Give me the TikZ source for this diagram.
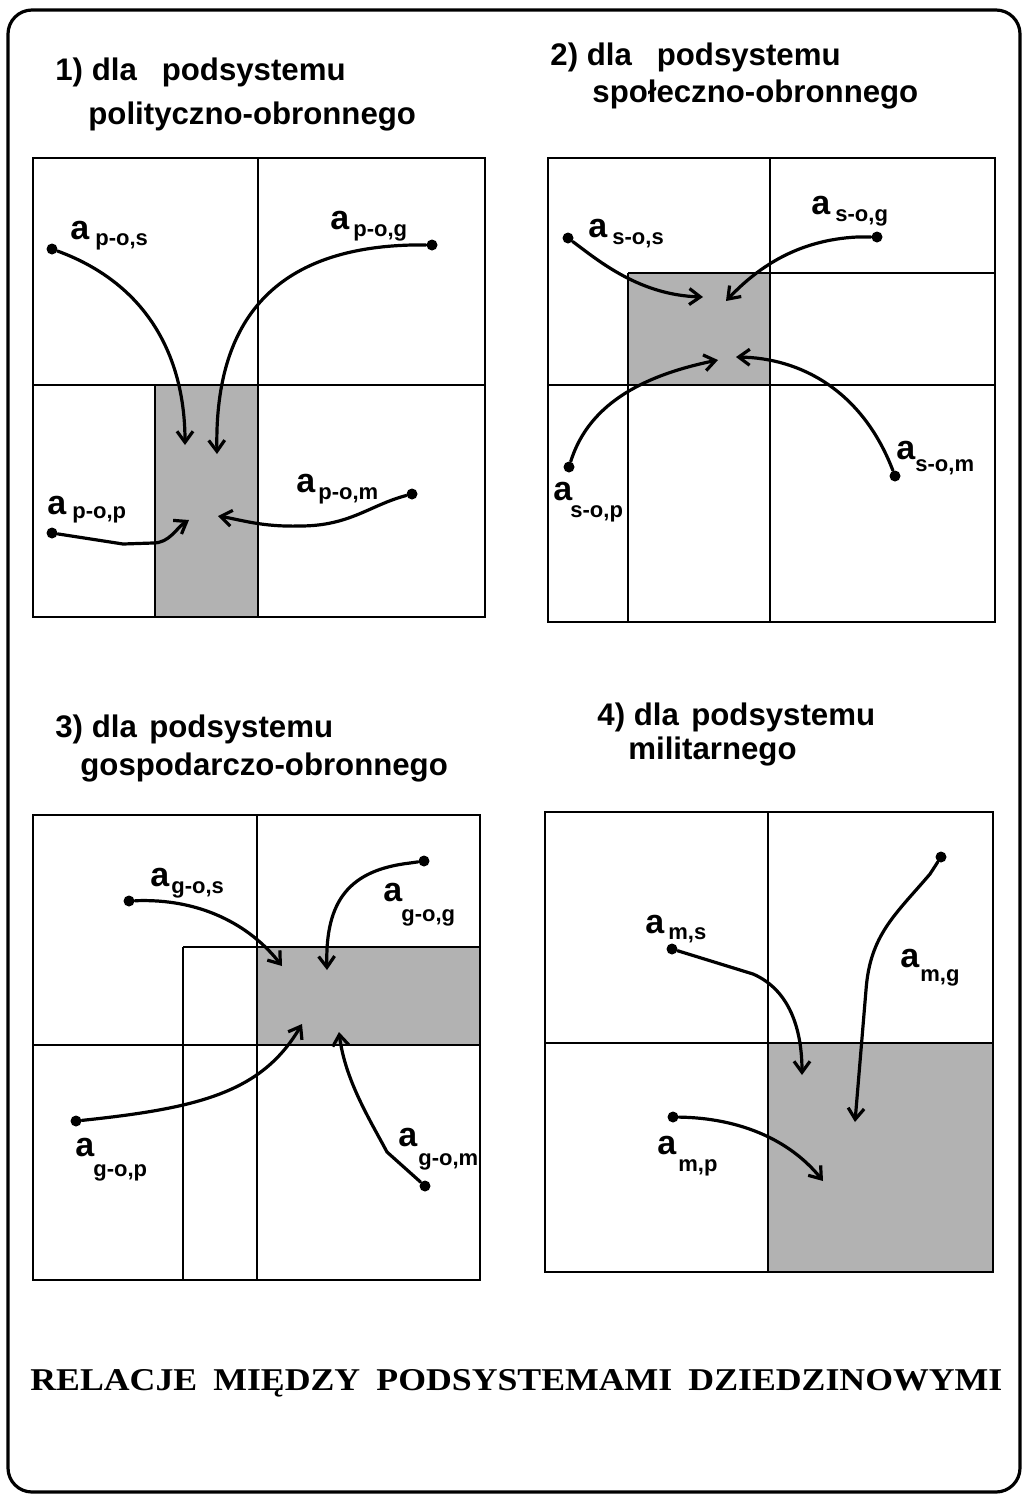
\documentclass[tikz,border=0pt]{standalone}
\usepackage{fontspec}
\setmainfont{Liberation Serif}
\newfontfamily\arialf{Liberation Sans}
\usetikzlibrary{arrows.meta}
\begin{document}
\begin{tikzpicture}[x=0.5pt,y=-0.5pt,
  gridl/.style={line width=0.9pt},
  shadebox/.style={fill=black!30},
  arr/.style={line width=1.6pt,line cap=round,-{Straight Barb[length=5.5pt,width=8pt]}},
  dotn/.style={circle,fill=black,inner sep=0pt,minimum size=5.5pt},
  ttl/.style={anchor=base west,inner sep=0pt,font=\arialf\bfseries\fontsize{15.6}{18}\selectfont},
  la/.style={anchor=base west,inner sep=0pt,font=\arialf\bfseries\fontsize{17}{18}\selectfont},
  ls/.style={anchor=base west,inner sep=0pt,font=\arialf\bfseries\fontsize{11}{13}\selectfont}]
\useasboundingbox (0,0) rectangle (1024,1500);
\fill[white] (0,0) rectangle (1024,1500);
% outer frame
\draw[line width=1.6pt,rounded corners=12pt] (8,10) rectangle (1020,1492);

% ---------- panel 1 ----------
\fill[shadebox] (155,385) rectangle (258,617);
\draw[gridl] (33,158) rectangle (485,617);
\draw[gridl] (258,158) -- (258,617);
\draw[gridl] (33,385) -- (485,385);
\draw[gridl] (155,385) -- (155,617);
\node[ttl] (t1a) at (55,80) {1) dla\hspace{0.8em}podsystemu};
\node[ttl] (t1b) at (88,124) {polityczno-obronnego};

\node[dotn] (d1s) at (52,249) {};
\node[dotn] (d1g) at (432,245) {};
\node[dotn] (d1p) at (52,533) {};
\node[dotn] (d1m) at (412,494) {};
\coordinate (e1s) at (185,445);
\coordinate (e1g) at (217,454);
\coordinate (e1p) at (189,520);
\coordinate (e1m) at (218,516);
\draw[arr] (d1s) .. controls (150,285) and (185,360) .. (e1s);
\draw[arr] (d1g) -- (412,245) .. controls (285,248) and (214,310) .. (e1g);
\draw[arr] (d1p) -- (123,544) -- (153,543) .. controls (170,543) and (176,528) .. (e1p);
\draw[arr] (d1m) .. controls (370,505) and (350,526) .. (300,526) .. controls (262,527) and (242,520) .. (e1m);
\node[la] (l1s) at (70,239) {a};   \node[ls] (s1s) at (95,245) {p-o,s};
\node[la] (l1g) at (330,229) {a};  \node[ls] (s1g) at (353,236) {p-o,g};
\node[la] (l1p) at (47,514) {a};   \node[ls] (s1p) at (72,518) {p-o,p};
\node[la] (l1m) at (296,492) {a};  \node[ls] (s1m) at (318,499) {p-o,m};

% ---------- panel 2 ----------
\fill[shadebox] (628,273) rectangle (770,385);
\draw[gridl] (548,158) rectangle (995,622);
\draw[gridl] (770,158) -- (770,622);
\draw[gridl] (548,385) -- (995,385);
\draw[gridl] (628,273) -- (995,273);
\draw[gridl] (628,273) -- (628,622);
\node[ttl] (t2a) at (550,65) {2) dla\hspace{0.8em}podsystemu};
\node[ttl] (t2b) at (592,102) {społeczno-obronnego};

\node[dotn] (d2s) at (568,238) {};
\node[dotn] (d2g) at (877,237) {};
\node[dotn] (d2p) at (569,467) {};
\node[dotn] (d2m) at (895,476) {};
\coordinate (e2s) at (703,297);
\coordinate (e2g) at (726,301);
\coordinate (e2p) at (718,360);
\coordinate (e2m) at (736,357);
\draw[arr] (d2s) .. controls (600,262) and (640,295) .. (e2s);
\draw[arr] (d2g) -- (857,237) .. controls (800,240) and (760,265) .. (e2g);
\draw[arr] (d2p) .. controls (590,400) and (650,374) .. (e2p);
\draw[arr] (d2m) .. controls (862,390) and (800,358) .. (e2m);
\node[la] (l2s) at (588,237) {a};  \node[ls] (s2s) at (612,244) {s-o,s};
\node[la] (l2g) at (811,214) {a};  \node[ls] (s2g) at (835,221) {s-o,g};
\node[la] (l2p) at (553,500) {a};  \node[ls] (s2p) at (570,517) {s-o,p};
\node[la] (l2m) at (896,459) {a};  \node[ls] (s2m) at (915,471) {s-o,m};

% ---------- panel 3 ----------
\fill[shadebox] (257,947) rectangle (480,1045);
\draw[gridl] (33,815) rectangle (480,1280);
\draw[gridl] (257,815) -- (257,1280);
\draw[gridl] (33,1045) -- (480,1045);
\draw[gridl] (183,947) -- (480,947);
\draw[gridl] (183,947) -- (183,1280);
\node[ttl] (t3a) at (55,737) {3) dla\hspace{0.4em}podsystemu};
\node[ttl] (t3b) at (80,775) {gospodarczo-obronnego};

\node[dotn] (d3s) at (129,901) {};
\node[dotn] (d3g) at (424,861) {};
\node[dotn] (d3p) at (76,1121) {};
\node[dotn] (d3m) at (425,1186) {};
\coordinate (e3s) at (282,966);
\coordinate (e3g) at (327,970);
\coordinate (e3p) at (302,1024);
\coordinate (e3m) at (339,1032);
\draw[arr] (d3s) .. controls (200,898) and (250,925) .. (e3s);
\draw[arr] (d3g) -- (410,863) .. controls (350,870) and (325,900) .. (e3g);
\draw[arr] (d3p) .. controls (200,1108) and (262,1092) .. (e3p);
\draw[arr] (d3m) -- (387,1152) .. controls (370,1120) and (345,1080) .. (e3m);
\node[la] (l3s) at (150,886) {a};   \node[ls] (s3s) at (171,893) {g-o,s};
\node[la] (l3g) at (383,901) {a};   \node[ls] (s3g) at (401,921) {g-o,g};
\node[la] (l3p) at (75,1156) {a};   \node[ls] (s3p) at (93,1176) {g-o,p};
\node[la] (l3m) at (398,1146) {a};  \node[ls] (s3m) at (418,1165) {g-o,m};

% ---------- panel 4 ----------
\fill[shadebox] (768,1043) rectangle (993,1272);
\draw[gridl] (545,812) rectangle (993,1272);
\draw[gridl] (768,812) -- (768,1272);
\draw[gridl] (545,1043) -- (993,1043);
\node[ttl] (t4a) at (597,725) {4) dla\hspace{0.4em}podsystemu};
\node[ttl] (t4b) at (628,759) {militarnego};

\node[dotn] (d4s) at (672,949) {};
\node[dotn] (d4g) at (941,857) {};
\node[dotn] (d4p) at (673,1117) {};
\coordinate (e4s) at (802,1075);
\coordinate (e4g) at (855,1122);
\coordinate (e4p) at (823,1181);
\draw[arr] (d4s) -- (753,974) .. controls (790,990) and (802,1030) .. (e4s);
\draw[arr] (d4g) -- (930,874) .. controls (895,915) and (870,935) .. (866,990) -- (e4g);
\draw[arr] (d4p) .. controls (740,1118) and (790,1140) .. (e4p);
\node[la] (l4s) at (645,933) {a};  \node[ls] (s4s) at (668,939) {m,s};
\node[la] (l4g) at (900,967) {a};  \node[ls] (s4g) at (920,981) {m,g};
\node[la] (l4p) at (657,1154) {a}; \node[ls] (s4p) at (678,1171) {m,p};

% ---------- bottom title ----------
\node[anchor=base west,inner sep=0pt] (bt) at (30,1390)
  {\resizebox{486pt}{10.5pt}{\bfseries RELACJE\hspace{0.45em}MIĘDZY\hspace{0.45em}PODSYSTEMAMI\hspace{0.45em}DZIEDZINOWYMI}};
\end{tikzpicture}
\end{document}
